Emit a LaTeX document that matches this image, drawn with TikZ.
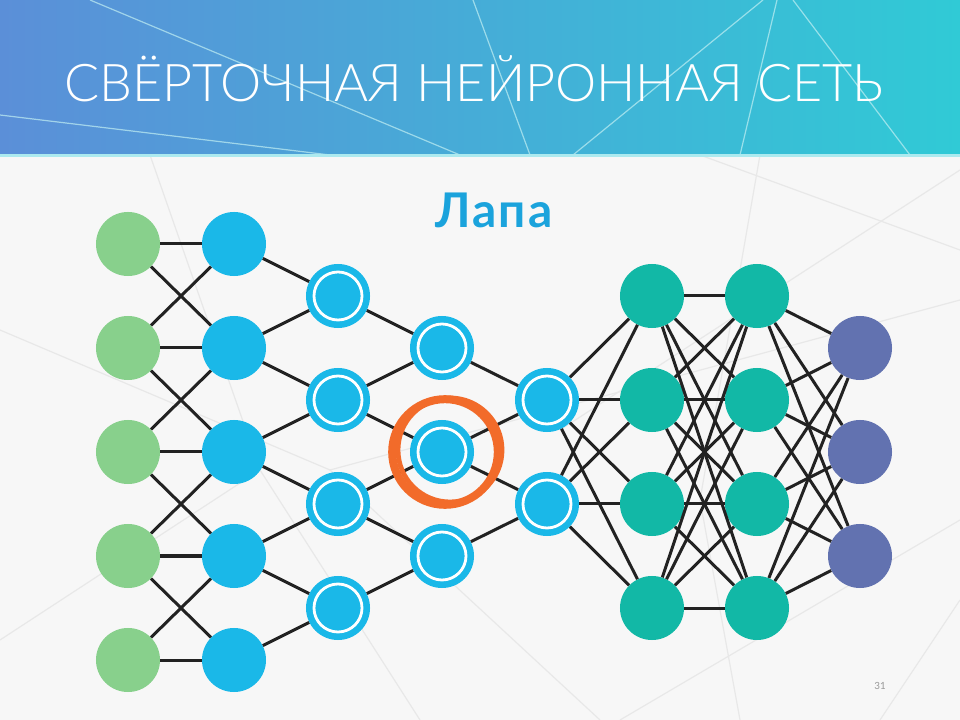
\documentclass[tikz,border=0pt]{standalone}
\usepackage{fontspec}
\setmainfont{Lato}
\newfontfamily\titlefont{Lato Light}
\usetikzlibrary{calc}
\definecolor{cgreen}{RGB}{136,208,140}
\definecolor{cblue}{RGB}{26,184,232}
\definecolor{cteal}{RGB}{18,184,166}
\definecolor{cpurple}{RGB}{98,114,176}
\definecolor{corange}{RGB}{242,107,42}
\definecolor{hleft}{RGB}{91,143,216}
\definecolor{hright}{RGB}{48,202,214}
\definecolor{ctext}{RGB}{27,163,220}
\definecolor{cedge}{RGB}{34,34,34}
\tikzset{
  neuron/.style={circle, minimum size=1.6cm, inner sep=0pt},
  gnode/.style={neuron, fill=cgreen},
  bnode/.style={neuron, fill=cblue},
  rnode/.style={neuron, fill=cblue, path picture={\draw[white, line width=0.07cm] (path picture bounding box.center) circle (0.6cm);}},
  tnode/.style={neuron, fill=cteal},
  pnode/.style={neuron, fill=cpurple},
  edge/.style={draw=cedge, line width=0.075cm},
  deco/.style={draw=black!9, line width=0.03cm},
  hdeco/.style={draw=white!70!hright, line width=0.03cm, opacity=0.7},
}
\begin{document}
\begin{tikzpicture}[x=0.025cm, y=-0.025cm]
\useasboundingbox (0,0) rectangle (960,720);
\fill[black!3] (0,0) rectangle (960,720);
% faint background lines
\draw[deco] (0,330) -- (330,470) -- (960,300);
\draw[deco] (700,155) -- (960,250);
\draw[deco] (560,430) -- (960,170);
\draw[deco] (0,640) -- (260,470) -- (420,720);
\draw[deco] (330,470) -- (600,720);
\draw[deco] (620,720) -- (960,520);
\draw[deco] (880,720) -- (960,600);
\draw[deco] (760,155) -- (700,500) -- (740,720);
\draw[deco] (150,155) -- (260,470);
% header
\shade[left color=hleft, right color=hright] (0,0) rectangle (960,155);
\draw[hdeco] (90,0) -- (460,155);
\draw[hdeco] (0,115) -- (330,155);
\draw[hdeco] (473,0) -- (530,155);
\draw[hdeco] (763,0) -- (573,155);
\draw[hdeco] (777,0) -- (740,155);
\draw[hdeco] (793,0) -- (910,155);
\fill[white!60!hright] (0,154) rectangle (960,157);
\node[text=white, font=\titlefont\fontsize{37}{40}\selectfont] (title) at (474,79) {СВЁРТОЧНАЯ НЕЙРОННАЯ СЕТЬ};
\node[text=ctext, font=\bfseries\fontsize{34}{38}\selectfont\addfontfeatures{LetterSpace=4}] (lapa) at (494,210) {Лапа};
\node[text=black!40, font=\fontsize{7}{8}\selectfont] (page) at (880,686) {31};
% nodes
\foreach \i/\y in {1/244,2/348,3/452,4/556,5/660} {
  \node[gnode] (g\i) at (128,\y) {};
  \node[bnode] (b\i) at (234,\y) {};
}
\foreach \i/\y in {1/296,2/400,3/504,4/608} {
  \node[rnode] (c\i) at (338,\y) {};
  \node[tnode] (f\i) at (652,\y) {};
  \node[tnode] (h\i) at (757,\y) {};
}
\foreach \i/\y in {1/348,2/452,3/556} {
  \node[rnode] (d\i) at (442,\y) {};
  \node[pnode] (o\i) at (860,\y) {};
}
\foreach \i/\y in {1/400,2/504} {
  \node[rnode] (e\i) at (547,\y) {};
}
% edges
\foreach \i in {1,...,5} \draw[edge] (g\i) -- (b\i);
\foreach \i/\j in {1/2,2/3,3/4,4/5} {
  \draw[edge] (g\i) -- (b\j);
  \draw[edge] (g\j) -- (b\i);
}
\foreach \i/\j in {1/2,2/3,3/4,4/5} {
  \draw[edge] (b\i) -- (c\i);
  \draw[edge] (b\j) -- (c\i);
}
\foreach \i/\j in {1/2,2/3,3/4} {
  \draw[edge] (c\i) -- (d\i);
  \draw[edge] (c\j) -- (d\i);
}
\foreach \i/\j in {1/2,2/3} {
  \draw[edge] (d\i) -- (e\i);
  \draw[edge] (d\j) -- (e\i);
}
\foreach \i in {1,2} \foreach \j in {1,...,4} \draw[edge] (e\i) -- (f\j);
\foreach \i in {1,...,4} \foreach \j in {1,...,4} \draw[edge] (f\i) -- (h\j);
\foreach \i in {1,...,4} \foreach \j in {1,2,3} \draw[edge] (h\i) -- (o\j);
% orange brush circle
\draw[corange, line width=0.2cm] (d2.center) ++(3,0) circle (1.32cm);
\draw[corange, line width=0.12cm] (d2.center) ++(8,-2) circle (1.3cm);
\end{tikzpicture}
\end{document}
